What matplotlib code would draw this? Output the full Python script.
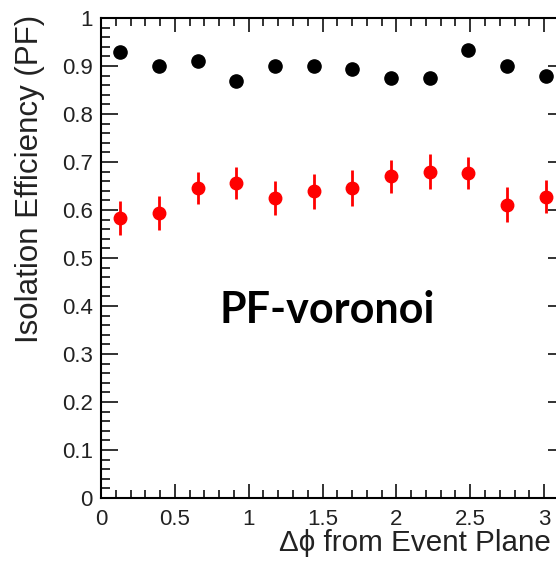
import numpy as np
import matplotlib
matplotlib.use("Agg")
import matplotlib.pyplot as plt
from matplotlib.ticker import MultipleLocator

# 12 bins of delta phi between 0 and pi
dphi = (np.arange(12) + 0.5) * np.pi / 12

eff_black = [0.930, 0.899, 0.910, 0.868, 0.899, 0.899, 0.893, 0.875, 0.875, 0.934, 0.899, 0.880]
err_black = [0.006] * 12

eff_red = [0.583, 0.594, 0.646, 0.656, 0.625, 0.639, 0.646, 0.670, 0.680, 0.677, 0.611, 0.628]
err_red = [0.036, 0.035, 0.034, 0.034, 0.035, 0.036, 0.037, 0.034, 0.036, 0.034, 0.036, 0.035]

xticks = [0, 0.5, 1, 1.5, 2, 2.5, 3]
xticklabels = ['0', '0.5', '1', '1.5', '2', '2.5', '3']
yticks = np.arange(0, 1.01, 0.1)
yticklabels = ['0', '0.1', '0.2', '0.3', '0.4', '0.5', '0.6', '0.7', '0.8', '0.9', '1']

plt.rcParams['font.family'] = ['Liberation Sans', 'DejaVu Sans']
ink = '#222222'

fig = plt.figure(figsize=(5.56, 5.66), dpi=100)
# axis runs past the right edge, like the cropped original
ax = fig.add_axes([101 / 556, 68 / 566, 464 / 556, 480 / 566])

ax.errorbar(dphi, eff_black, yerr=err_black, fmt='o', color='black', ms=9.5, elinewidth=2, capsize=0)
ax.errorbar(dphi, eff_red, yerr=err_red, fmt='o', color='red', ms=9, elinewidth=2, capsize=0)

ax.set_xlim(0, np.pi)
ax.set_ylim(0, 1)
ax.xaxis.set_minor_locator(MultipleLocator(0.1))
ax.yaxis.set_minor_locator(MultipleLocator(0.02))
ax.set_xticks(xticks)
ax.set_xticklabels(xticklabels)
ax.set_yticks(yticks)
ax.set_yticklabels(yticklabels)

ax.tick_params(which='both', direction='in', top=True, right=True, width=1.3, labelsize=16, colors=ink)
ax.tick_params(axis='y', which='major', length=12, pad=6)
ax.tick_params(axis='y', which='minor', length=6.5)
ax.tick_params(axis='x', which='major', length=10, pad=8)
ax.tick_params(axis='x', which='minor', length=5.5)
for s in ax.spines.values():
    s.set_linewidth(1.5)

fig.text(38 / 556, 1 - 15 / 566, 'Isolation Efficiency (PF)', fontsize=22.5, color=ink,
         rotation=90, rotation_mode='anchor', ha='right', va='baseline')
fig.text(551 / 556, 1 - 551 / 566, 'Δϕ from Event Plane', fontsize=21.3,
         ha='right', va='baseline', color=ink)

fig.text(327 / 556, 1 - 323 / 566, 'PF-voronoi', fontsize=31, fontweight='bold',
         family='Lato', ha='center', va='baseline')

fig.savefig('out.png', dpi=100)
